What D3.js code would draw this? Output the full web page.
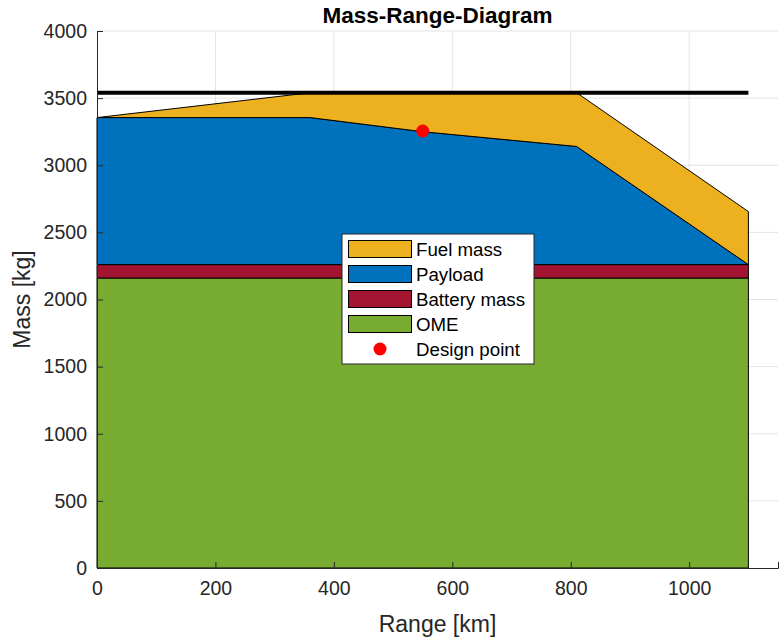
<!DOCTYPE html>
<html><head><meta charset="utf-8">
<script src="https://cdn.jsdelivr.net/npm/d3@7"></script>
<style>body{margin:0;background:#fff;} text{font-family:"Liberation Sans",Arial,sans-serif;}</style>
</head><body>
<svg id="c" width="780" height="643"></svg>
<script>
// Data
const ranges      = [0, 360, 550, 810, 1100];
const omeMass     = [2160, 2160, 2160, 2160, 2160];
const batteryMass = [100, 100, 100, 100, 100];
const payloadMass = [1095, 1095, 990, 880, 0];
const fuelMass    = [0, 185, 290, 400, 395];
const mtom = 3540;
const designPoint = [550, 3255];
const xTicks = [0, 200, 400, 600, 800, 1000];
const yTicks = [0, 500, 1000, 1500, 2000, 2500, 3000, 3500, 4000];
const seriesNames = ["Fuel mass", "Payload", "Battery mass", "OME"];
const seriesColors = ["#EDB120", "#0072BD", "#A2142F", "#77AC30"];

const svg = d3.select("#c");
const L = 97, R = 778, T = 31, B = 568;
const x = d3.scaleLinear().domain([0, 1150]).range([L, R]);
const y = d3.scaleLinear().domain([0, 4000]).range([B, T]);

// grid
svg.append("g").selectAll("line").data(xTicks.filter(d=>d>0)).enter().append("line")
  .attr("x1", d=>x(d)).attr("x2", d=>x(d)).attr("y1", T).attr("y2", B)
  .attr("stroke", "#e3e3e3").attr("stroke-width", 1);
svg.append("g").selectAll("line").data(yTicks.filter(d=>d>0)).enter().append("line")
  .attr("x1", L).attr("x2", R).attr("y1", d=>y(d)).attr("y2", d=>y(d))
  .attr("stroke", "#e3e3e3").attr("stroke-width", 1);

// stacked areas
const rows = ranges.map((r,i)=>({r, ome: omeMass[i], bat: batteryMass[i], pay: payloadMass[i], fuel: fuelMass[i]}));
const stack = d3.stack().keys(["ome","bat","pay","fuel"]);
const layers = stack(rows);
const colorFor = {ome: seriesColors[3], bat: seriesColors[2], pay: seriesColors[1], fuel: seriesColors[0]};
const area = d3.area().x(d=>x(d.data.r)).y0(d=>y(d[0])).y1(d=>y(d[1]));
svg.append("g").selectAll("path").data(layers).enter().append("path")
  .attr("d", area).attr("fill", d=>colorFor[d.key])
  .attr("stroke", "#000").attr("stroke-width", 1).attr("stroke-linejoin", "round");

// MTOM line
svg.append("line").attr("x1", x(0)).attr("x2", x(1100)).attr("y1", y(mtom)).attr("y2", y(mtom))
  .attr("stroke", "#000").attr("stroke-width", 4);

// design point
svg.append("circle").attr("cx", x(designPoint[0])).attr("cy", y(designPoint[1])).attr("r", 6.5).attr("fill", "#ff0000");

// axes
const xAxis = d3.axisBottom(x).tickValues(xTicks).tickSize(-6).tickPadding(9).tickFormat(d3.format("d"));
const yAxis = d3.axisLeft(y).tickValues(yTicks).tickSize(-6).tickPadding(10).tickFormat(d3.format("d"));
const gx = svg.append("g").attr("transform", `translate(0,${B})`).call(xAxis);
const gy = svg.append("g").attr("transform", `translate(${L},0)`).call(yAxis);
[gx, gy].forEach(g=>{
  g.select(".domain").attr("stroke", "#262626").attr("stroke-width", 1);
  g.selectAll(".tick line").attr("stroke", "#262626");
  g.selectAll(".tick text").attr("fill", "#262626").style("font-size", "19.5px").style("font-family", "Liberation Sans, Arial, sans-serif");
});
gx.selectAll(".tick text").attr("dy", "0.9em");

// labels
svg.append("text").attr("x", (L+R)/2).attr("y", 23).attr("text-anchor", "middle")
  .style("font-size", "22.5px").style("font-weight", "bold").attr("fill", "#000").text("Mass-Range-Diagram");
svg.append("text").attr("x", (L+R)/2).attr("y", 632).attr("text-anchor", "middle")
  .style("font-size", "23px").attr("fill", "#262626").text("Range [km]");
svg.append("text").attr("transform", `translate(30,${(T+B)/2}) rotate(-90)`).attr("text-anchor", "middle")
  .style("font-size", "23px").attr("fill", "#262626").text("Mass [kg]");

// legend
const lg = svg.append("g").attr("transform", "translate(342,234)");
lg.append("rect").attr("x", 0).attr("y", 0).attr("width", 192).attr("height", 130)
  .attr("fill", "#fff").attr("stroke", "#262626").attr("stroke-width", 1);
seriesNames.forEach((n,i)=>{
  const cy = 15 + i*25;
  lg.append("rect").attr("x", 6.5).attr("y", cy-8.5).attr("width", 63).attr("height", 17)
    .attr("fill", seriesColors[i]).attr("stroke", "#000").attr("stroke-width", 1);
  lg.append("text").attr("x", 74).attr("y", cy).attr("dy", "0.35em").style("font-size", "18.7px").attr("fill", "#000").text(n);
});
lg.append("circle").attr("cx", 38).attr("cy", 15+4*25).attr("r", 6.5).attr("fill", "#ff0000");
lg.append("text").attr("x", 74).attr("y", 15+4*25).attr("dy", "0.35em").style("font-size", "18.7px").attr("fill", "#000").text("Design point");
</script>
</body></html>
